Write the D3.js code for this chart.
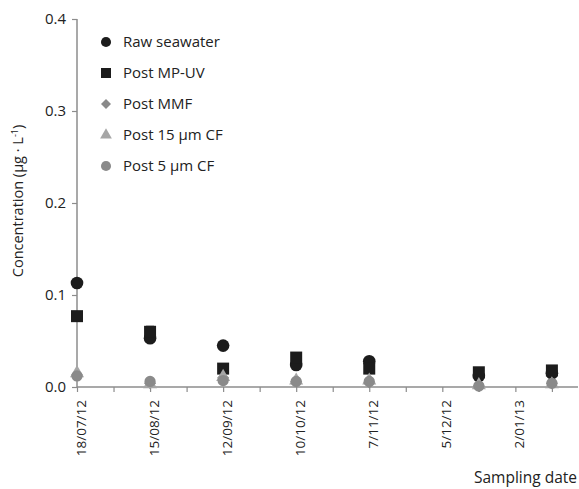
<!DOCTYPE html>
<html>
<head>
<meta charset="utf-8">
<script src="https://cdn.jsdelivr.net/npm/d3@7"></script>
<style>
  html, body { margin: 0; padding: 0; background: #fff; }
  svg { display: block; font-family: "Open Sans", sans-serif; }
</style>
</head>
<body>
<svg id="chart" width="579" height="489"></svg>
<script>
// Sampling dates (day/month/year)
const sampleDates = ["18/07/12", "15/08/12", "12/09/12", "10/10/12", "7/11/12", "19/12/12", "16/01/13"];

// Concentrations (µg/L) per treatment stage
const rawSeawater = [0.113, 0.053, 0.045, 0.024, 0.028, 0.012, 0.015];
const postMPUV    = [0.077, 0.060, 0.020, 0.032, 0.020, 0.016, 0.018];
const postMPUVErr = [0, 0.006, 0, 0.002, 0, 0, 0];
const postMMF     = [0.013, 0.004, 0.010, 0.006, 0.005, 0.001, 0.004];
const post15CF    = [0.015, 0.003, 0.011, 0.007, 0.007, 0.002, 0.003];
const post5CF     = [0.012, 0.006, 0.007, 0.006, 0.006, 0.001, 0.004];

const seriesNames = ["Raw seawater", "Post MP-UV", "Post MMF", "Post 15 \u00b5m CF", "Post 5 \u00b5m CF"];
const yTickValues = [0, 0.1, 0.2, 0.3, 0.4];

const parse = d3.utcParse("%d/%m/%y");
const fmt = d3.utcFormat("%-d/%m/%y");

const svg = d3.select("#chart");
const axisColor = "#8c8c8c";
const textColor = "#222";

const x = d3.scaleUtc()
  .domain([parse("18/07/12"), parse("26/01/13")])
  .range([77, 578]);
const y = d3.scaleLinear().domain([0, 0.4]).range([387, 19]);

// Axis ticks every 14 days, labels every 28 days
const tickDates = d3.utcDay.range(x.domain()[0], d3.utcDay.offset(x.domain()[1], 1))
  .filter((d, i) => i % 14 === 0);
const labelDates = tickDates.filter((d, i) => i % 2 === 0);

// Y axis
const yAxis = d3.axisLeft(y).tickValues(yTickValues).tickFormat(d3.format(".1f")).tickSize(5).tickPadding(6);
const gy = svg.append("g").attr("transform", "translate(77,0)").call(yAxis);
gy.select(".domain").attr("stroke", axisColor).attr("stroke-width", 1.5).attr("d", `M0,${y(0.4)}V${y(0)}`);
gy.selectAll(".tick line").attr("stroke", axisColor).attr("stroke-width", 1.2);
gy.selectAll(".tick text").attr("fill", textColor).style("font-size", "15px").style("font-family", "'Open Sans', sans-serif");

// X axis
const xAxis = d3.axisBottom(x).tickValues(tickDates).tickFormat("").tickSize(5);
const gx = svg.append("g").attr("transform", `translate(0,${y(0)})`).call(xAxis);
gx.select(".domain").attr("stroke", axisColor).attr("stroke-width", 1.5).attr("d", `M${x.range()[0]},0H${x.range()[1]}`);
gx.selectAll(".tick line").attr("stroke", axisColor).attr("stroke-width", 1.2);

svg.append("g").selectAll("text").data(labelDates).join("text")
  .attr("transform", d => `translate(${x(d) + 4},${y(0) + 13}) rotate(-90)`)
  .attr("text-anchor", "end")
  .attr("dy", "0.35em")
  .attr("fill", textColor)
  .style("font-size", "13.5px")
  .text(d => fmt(d));

// Axis titles
svg.append("text")
  .attr("transform", "translate(23,201) rotate(-90)")
  .attr("text-anchor", "middle")
  .attr("fill", textColor)
  .style("font-size", "14.5px")
  .html("Concentration (\u00b5g \u00b7 L<tspan dy='-5' font-size='9px'>-1</tspan><tspan dy='5'>)</tspan>");

svg.append("text")
  .attr("x", 577).attr("y", 483)
  .attr("text-anchor", "end")
  .attr("fill", textColor)
  .style("font-size", "15.5px")
  .text("Sampling date");

// Markers
const black = "#1c1c1c";
const greyDark = "#8a8a8a";
const greyLight = "#a6a6a6";
const styles = [
  { sym: d3.symbolCircle, size: 125, color: black, lsize: 80, rot: 0 },
  { sym: d3.symbolSquare, size: 144, color: black, lsize: 100, rot: 0 },
  { sym: d3.symbolSquare, size: 72, color: greyDark, lsize: 50, rot: 45 },
  { sym: d3.symbolTriangle, size: 85, color: greyLight, lsize: 60, rot: 0 },
  { sym: d3.symbolCircle, size: 100, color: greyDark, lsize: 80, rot: 0 }
];
const seriesValues = [rawSeawater, postMPUV, postMMF, post15CF, post5CF];
const dates = sampleDates.map(parse);

// Error bars on Post MP-UV
svg.append("g").selectAll("path").data(postMPUVErr.map((e, i) => ({ e, i })).filter(d => d.e > 0)).join("path")
  .attr("d", d => {
    const cx = x(dates[d.i]);
    const top = y(postMPUV[d.i] + d.e);
    return `M${cx},${y(postMPUV[d.i])}V${top}M${cx - 4},${top}H${cx + 4}`;
  })
  .attr("stroke", black).attr("stroke-width", 1.2).attr("fill", "none");

seriesValues.forEach((vals, s) => {
  const st = styles[s];
  svg.append("g").selectAll("path").data(vals).join("path")
    .attr("transform", (v, i) => `translate(${x(dates[i])},${y(v)}) rotate(${st.rot})`)
    .attr("d", d3.symbol().type(st.sym).size(st.size))
    .attr("fill", st.color);
});

// Legend
const legend = svg.append("g");
seriesNames.forEach((name, s) => {
  const ly = 42 + s * 31;
  legend.append("path")
    .attr("transform", `translate(106,${ly}) rotate(${styles[s].rot})`)
    .attr("d", d3.symbol().type(styles[s].sym).size(styles[s].lsize))
    .attr("fill", styles[s].color);
  legend.append("text")
    .attr("x", 123).attr("y", ly).attr("dy", "0.36em")
    .attr("fill", textColor)
    .style("font-size", "15px")
    .text(name);
});
</script>
</body>
</html>
